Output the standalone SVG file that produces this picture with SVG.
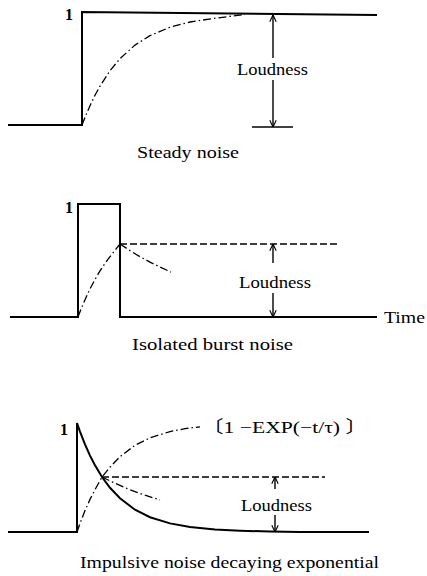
<svg xmlns="http://www.w3.org/2000/svg" width="427" height="576" viewBox="0 0 427 576">
<style>
  .bg{fill:#fff}
  .solid{fill:none;stroke:#000;stroke-width:2;stroke-linejoin:miter}
  .dashdot{fill:none;stroke:#000;stroke-width:1.3;stroke-dasharray:8 3 1.5 3}
  .dashed{fill:none;stroke:#000;stroke-width:1.3;stroke-dasharray:7 3}
  .arrow{fill:none;stroke:#000;stroke-width:1.4}
  .tick{fill:none;stroke:#000;stroke-width:1.4}
  text{font-family:"Liberation Serif","Noto Sans CJK JP",serif;fill:#000}
  .lbl{font-size:17px}
  .one{font-size:16px;font-weight:bold}
</style>
<defs>
  <marker id="ah" viewBox="0 0 10 10" refX="9.5" refY="5" markerWidth="8" markerHeight="8" markerUnits="userSpaceOnUse" orient="auto">
    <path d="M1,1 L9.5,5 L1,9" fill="none" stroke="#000" stroke-width="1.4"/>
  </marker>
</defs>
<rect class="bg" x="0" y="0" width="427" height="576"/>

<g id="panel-steady">
  <path class="solid" d="M8,125 H82 V12 L377,15"/>
  <path class="dashdot" d="M82,125 L86,114.9 L90,105.7 L95,95.3 L100,86.1 L110,70.7 L120,58.6 L135,45.1 L150,35.6 L170,27.2 L190,22 L215,18.2 L245,14.5"/>
  <text class="one" x="65" y="20">1</text>
  <text class="lbl" x="237" y="75" textLength="71" lengthAdjust="spacingAndGlyphs">Loudness</text>
  <text class="lbl" x="137" y="158" textLength="102" lengthAdjust="spacingAndGlyphs">Steady noise</text>
</g>

<g id="panel-burst">
  <path class="solid" d="M10,317 H78 V204 H120 V317 H377"/>
  <path class="dashdot" d="M78,317 L81,309.2 L85,299.7 L90,288.9 L95,279.4 L100,270.9 L105,263.4 L110,256.7 L115,250.3 L120,244"/>
  <path class="dashdot" d="M120,244 L130,250.6 L140,256.7 L150,262.1 L160,267.1 L171,272.1"/>
  <path class="dashed" d="M120,244 H340"/>
  <text class="one" x="65" y="213">1</text>
  <text class="lbl" x="239" y="288" textLength="72" lengthAdjust="spacingAndGlyphs">Loudness</text>
  <text class="lbl" x="384" y="323" textLength="41" lengthAdjust="spacingAndGlyphs">Time</text>
  <text class="lbl" x="132" y="350" textLength="161" lengthAdjust="spacingAndGlyphs">Isolated burst noise</text>
</g>

<g id="panel-impulsive">
  <path class="solid" d="M8,532 H77 V423 L80,431.6 L85,444.4 L90,455.6 L95,465.3 L102,477 L110,487.8 L120,498.3 L135,509.7 L150,517.2 L170,523.4 L190,527 L215,529.5 L240,530.7 L270,531.5 L300,532 H369"/>
  <path class="dashdot" d="M77,532 L80,523.4 L85,510.6 L90,499.4 L95,489.7 L102,477 L110,467.2 L120,456.7 L135,445.3 L150,437.8 L170,431.6 L185,428.7 L200,426.8"/>
  <path class="dashdot" d="M102,477 L115,483.3 L130,489.7 L145,495.2 L160,500"/>
  <path class="dashed" d="M102,477 H325"/>
  <text class="one" x="60" y="435">1</text>
  <text class="lbl" x="202" y="433" textLength="165" lengthAdjust="spacingAndGlyphs">〔1 −EXP(−t/τ) 〕</text>
  <text class="lbl" x="241" y="511" textLength="71" lengthAdjust="spacingAndGlyphs">Loudness</text>
  <text class="lbl" x="80" y="568" textLength="299" lengthAdjust="spacingAndGlyphs">Impulsive noise decaying exponential</text>
</g>

<g id="connectors">
  <line class="arrow" x1="273" y1="58" x2="273" y2="15" marker-end="url(#ah)"/>
  <line class="arrow" x1="273" y1="80" x2="273" y2="127" marker-end="url(#ah)"/>
  <line class="tick" x1="252" y1="127" x2="293" y2="127"/>
  <line class="arrow" x1="273" y1="263" x2="273" y2="244" marker-end="url(#ah)"/>
  <line class="arrow" x1="273" y1="293" x2="273" y2="317" marker-end="url(#ah)"/>
  <line class="arrow" x1="275" y1="489" x2="275" y2="477" marker-end="url(#ah)"/>
  <line class="arrow" x1="275" y1="515" x2="275" y2="532" marker-end="url(#ah)"/>
</g>
</svg>
